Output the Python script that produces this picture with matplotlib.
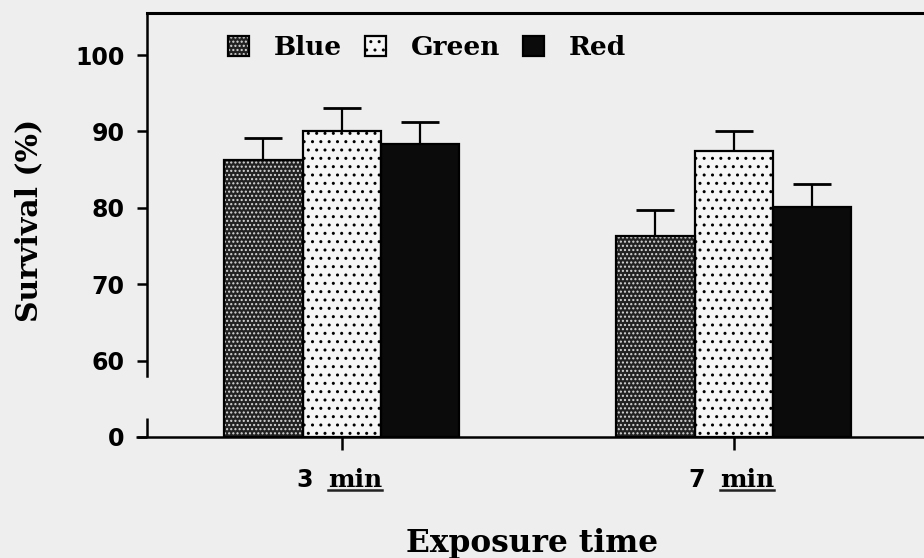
import matplotlib
matplotlib.use("Agg")
import matplotlib.pyplot as plt
import matplotlib.transforms as mtransforms
from matplotlib.patches import Patch
from matplotlib.lines import Line2D
from matplotlib.legend_handler import HandlerTuple
from matplotlib.font_manager import FontProperties

# ---- data -------------------------------------------------------------
exposure_values = ["3", "7"]
exposure_unit = "min"
series = ["Blue", "Green", "Red"]
survival_blue = [86.3, 76.3]
survival_green = [90.1, 87.4]
survival_red = [88.4, 80.1]
sem_blue = [2.8, 3.4]
sem_green = [2.9, 2.7]
sem_red = [2.8, 3.0]
ytick_values = [50, 60, 70, 80, 90, 100]
ytick_labels = ["0", "60", "70", "80", "90", "100"]

survival = [survival_blue, survival_green, survival_red]
sem = [sem_blue, sem_green, sem_red]

# broken y axis: the floor of the axis stands for 0
Y_FLOOR = 50
Y_TOP = 105.5

# ---- styles -----------------------------------------------------------
SERIF = "DejaVu Serif"
SANS = "DejaVu Sans"
fills = [
    dict(facecolor="#222222", hatch="....", hatchcolor="#d8d8d8"),
    dict(facecolor="#f6f6f6", hatch="..", hatchcolor="black"),
    dict(facecolor="#0b0b0b", hatch=None, hatchcolor="#0b0b0b"),
]
plt.rcParams["hatch.linewidth"] = 1.0

fig = plt.figure(figsize=(9.24, 5.58), dpi=100, facecolor="#eeeeee")
ax = fig.add_axes([147 / 924, 1 - 437 / 558, 1 - 147 / 924, (437 - 13) / 558])
ax.set_facecolor("none")

bar_w = 0.2
x_centers = list(range(len(exposure_values)))
handles = []
for i, (name, vals, errs, st) in enumerate(zip(series, survival, sem, fills)):
    xs = [c + (i - 1) * bar_w for c in x_centers]
    heights = [v - Y_FLOOR for v in vals]
    ax.bar(xs, heights, bottom=Y_FLOOR, width=bar_w, color=st["facecolor"],
           edgecolor=st["hatchcolor"], hatch=st["hatch"], linewidth=0, zorder=2)
    ax.bar(xs, heights, bottom=Y_FLOOR, width=bar_w, fill=False,
           edgecolor="black", linewidth=1.6, zorder=3)
    ax.errorbar(xs, vals, yerr=[[0] * len(vals), errs], fmt="none",
                ecolor="black", elinewidth=1.6, capsize=14, capthick=2.0,
                zorder=1)
    h_fill = Patch(facecolor=st["facecolor"], edgecolor=st["hatchcolor"],
                   hatch=st["hatch"], linewidth=0)
    h_edge = Patch(fill=False, edgecolor="black", linewidth=1.6)
    handles.append((h_fill, h_edge))

ax.set_xlim(-0.497, 1.485)
ax.set_ylim(Y_FLOOR, Y_TOP)

# spines: top frame line, broken left axis, extended baseline
for side in ("right", "bottom"):
    ax.spines[side].set_visible(False)
ax.spines["top"].set_linewidth(2.2)
ax.spines["left"].set_linewidth(1.8)
ax.spines["left"].set_bounds(58.0, Y_TOP)
yblend = mtransforms.blended_transform_factory(ax.transAxes, ax.transData)
ax.plot([0, 0], [Y_FLOOR, 52.5], color="black", lw=1.8, transform=yblend,
        clip_on=False, solid_capstyle="butt")
ax.plot([-11 / 777, 1], [0, 0], color="black", lw=1.8, transform=ax.transAxes,
        clip_on=False, solid_capstyle="butt")

ax.set_yticks(ytick_values)
ax.set_yticklabels(ytick_labels, fontfamily=SANS, fontweight="bold", fontsize=17)
ax.tick_params(axis="y", direction="out", length=7.2, width=1.8, pad=9)
ax.set_xticks(x_centers)
ax.set_xticklabels([""] * len(x_centers))
ax.tick_params(axis="x", direction="out", length=9.5, width=1.8)

# category labels: "3 min" with the unit underlined
xblend = mtransforms.blended_transform_factory(ax.transData, ax.transAxes)
unit_texts = []
for c, val in zip(x_centers, exposure_values):
    ax.annotate(val, xy=(c, 0), xycoords=xblend, xytext=(-29, -50),
                textcoords="offset pixels", ha="right", va="baseline",
                fontfamily=SANS, fontweight="bold", fontsize=17)
    t = ax.annotate(exposure_unit, xy=(c, 0), xycoords=xblend,
                    xytext=(-14, -50), textcoords="offset pixels", ha="left",
                    va="baseline", fontfamily=SERIF, fontweight="bold",
                    fontsize=18)
    unit_texts.append(t)

ax.set_ylabel("Survival (%)", fontfamily=SERIF, fontweight="bold",
              fontsize=21.5, va="center")
ax.yaxis.set_label_coords((29 - 147) / 777, (437 - 220) / 424)
ax.set_xlabel("Exposure time", fontfamily=SERIF, fontweight="bold",
              fontsize=22.5, va="baseline")
ax.xaxis.set_label_coords(0.495, -0.271)

fig.legend(handles, series, handler_map={tuple: HandlerTuple(ndivide=1)},
           loc="upper left", bbox_to_anchor=(228 / 924, 1 - 35 / 558),
           ncol=3, frameon=False, borderpad=0, borderaxespad=0,
           prop=FontProperties(family=SERIF, weight="bold", size=19),
           handlelength=0.8, handleheight=0.8, handletextpad=0.95,
           columnspacing=0.85)

# underline the unit labels
fig.canvas.draw()
renderer = fig.canvas.get_renderer()
for t in unit_texts:
    bb = t.get_window_extent(renderer)
    prop = t.get_fontproperties()
    _, _, lp_d = renderer.get_text_width_height_descent("lp", prop, ismath=False)
    y = bb.y0 + lp_d - 3
    fig.add_artist(Line2D([bb.x0, bb.x1], [y, y], color="#222222", lw=1.8,
                          transform=mtransforms.IdentityTransform()))

fig.savefig("out.png", dpi=100, facecolor=fig.get_facecolor())
